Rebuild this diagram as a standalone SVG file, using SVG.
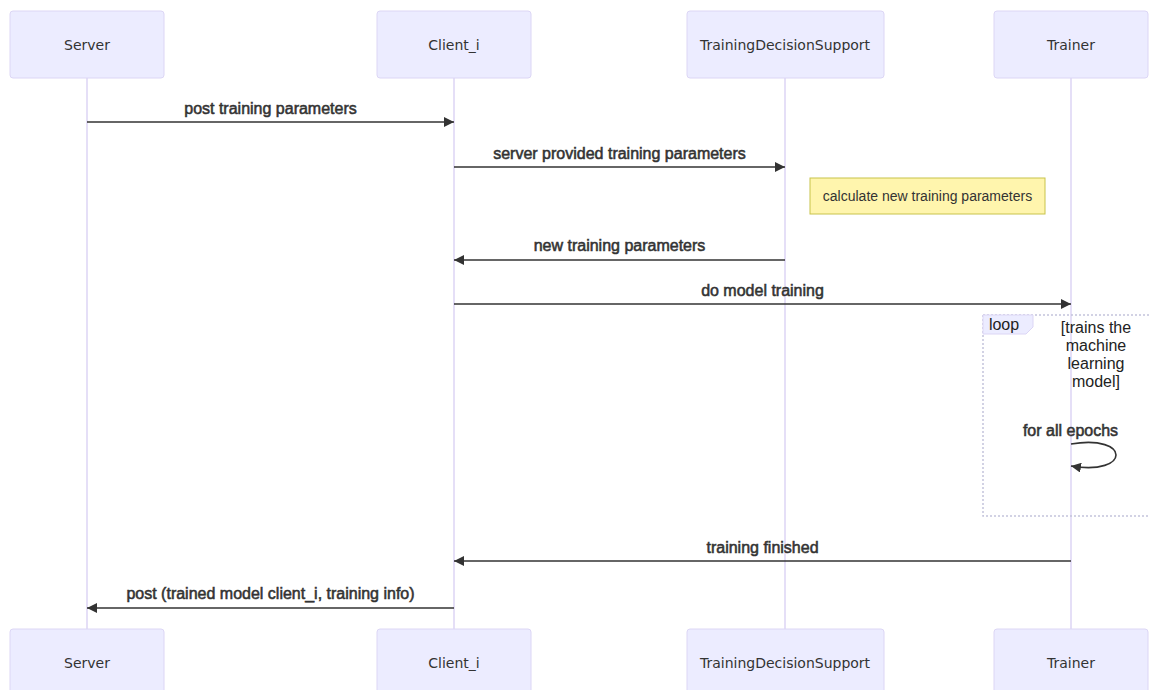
<svg xmlns="http://www.w3.org/2000/svg" width="1150" height="690" viewBox="0 0 1150 690">
  <style>
    .actor { fill: #ececff; stroke: #dcd6f5; stroke-width: 1; }
    .actor-label { font-family: "DejaVu Sans", sans-serif; font-size: 14px; fill: #333; text-anchor: middle; }
    .lifeline { stroke: #dcd4f4; stroke-width: 1.5; }
    .msg { stroke: #333; stroke-width: 1.6; fill: none; }
    .msg-label { font-family: "Liberation Sans", Arial, sans-serif; font-size: 16px; fill: #333; stroke: #333; stroke-width: 0.55; text-anchor: middle; }
    .note { fill: #fff5ad; stroke: #c8c34a; stroke-width: 1; }
    .note-label { font-family: "Liberation Sans", Arial, sans-serif; font-size: 14px; fill: #333; text-anchor: middle; }
    .loop-line { fill: none; stroke: #c4c4dc; stroke-width: 1.5; stroke-dasharray: 2 2; }
    .loop-tab { fill: #ececff; stroke: #dcd6f5; stroke-width: 1; }
    .loop-text { font-family: "Liberation Sans", Arial, sans-serif; font-size: 16px; fill: #222; text-anchor: middle; }
  </style>
  <defs>
    <marker id="arrowhead" viewBox="0 0 10 10" refX="10" refY="5" markerWidth="10" markerHeight="10" markerUnits="userSpaceOnUse" orient="auto">
      <path d="M0,0 L10,5 L0,10 Z" fill="#333"/>
    </marker>
  </defs>

  <rect width="1150" height="690" fill="#ffffff"/>

  <!-- lifelines -->
  <g id="lifelines">
    <line class="lifeline" x1="87" y1="78" x2="87" y2="629"/>
    <line class="lifeline" x1="454" y1="78" x2="454" y2="629"/>
    <line class="lifeline" x1="785" y1="78" x2="785" y2="629"/>
    <line class="lifeline" x1="1071" y1="78" x2="1071" y2="629"/>
  </g>

  <!-- participants -->
  <g id="server">
    <rect class="actor" x="10" y="11" width="154" height="67" rx="3"/>
    <text class="actor-label" x="87" y="50">Server</text>
    <rect class="actor" x="10" y="629" width="154" height="67" rx="3"/>
    <text class="actor-label" x="87" y="668">Server</text>
  </g>
  <g id="client_i">
    <rect class="actor" x="377" y="11" width="154" height="67" rx="3"/>
    <text class="actor-label" x="454" y="50">Client_i</text>
    <rect class="actor" x="377" y="629" width="154" height="67" rx="3"/>
    <text class="actor-label" x="454" y="668">Client_i</text>
  </g>
  <g id="training-decision-support">
    <rect class="actor" x="687" y="11" width="197" height="67" rx="3"/>
    <text class="actor-label" x="785" y="50">TrainingDecisionSupport</text>
    <rect class="actor" x="687" y="629" width="197" height="67" rx="3"/>
    <text class="actor-label" x="785" y="668">TrainingDecisionSupport</text>
  </g>
  <g id="trainer">
    <rect class="actor" x="994" y="11" width="154" height="67" rx="3"/>
    <text class="actor-label" x="1071" y="50">Trainer</text>
    <rect class="actor" x="994" y="629" width="154" height="67" rx="3"/>
    <text class="actor-label" x="1071" y="668">Trainer</text>
  </g>

  <!-- note next to TrainingDecisionSupport -->
  <g id="note-calculate">
    <rect class="note" x="810" y="178" width="235" height="36"/>
    <text class="note-label" x="927.5" y="201">calculate new training parameters</text>
  </g>

  <!-- loop frame -->
  <g id="loop-frame">
    <path class="loop-line" d="M983,315 H1152 M983,315 V516 H1152"/>
    <path class="loop-tab" d="M983,315 H1033 V327 L1026,334 H983 Z"/>
    <text class="loop-text" x="1004" y="330" font-size="15">loop</text>
    <text class="loop-text" x="1096" y="333">[trains the</text>
    <text class="loop-text" x="1096" y="351">machine</text>
    <text class="loop-text" x="1096" y="369">learning</text>
    <text class="loop-text" x="1096" y="387">model]</text>
  </g>

  <!-- messages -->
  <g id="connectors">
    <line class="msg" x1="87" y1="122" x2="454" y2="122" marker-end="url(#arrowhead)"/>
    <text class="msg-label" x="270.5" y="114">post training parameters</text>

    <line class="msg" x1="454" y1="167" x2="785" y2="167" marker-end="url(#arrowhead)"/>
    <text class="msg-label" x="619.5" y="159">server provided training parameters</text>

    <line class="msg" x1="785" y1="260" x2="454" y2="260" marker-end="url(#arrowhead)"/>
    <text class="msg-label" x="619.5" y="251">new training parameters</text>

    <line class="msg" x1="454" y1="304" x2="1071" y2="304" marker-end="url(#arrowhead)"/>
    <text class="msg-label" x="762.5" y="296">do model training</text>

    <path class="msg" d="M1071,444 C1131,434 1131,476 1071,466" marker-end="url(#arrowhead)"/>
    <text class="msg-label" x="1070.5" y="436">for all epochs</text>

    <line class="msg" x1="1071" y1="561" x2="454" y2="561" marker-end="url(#arrowhead)"/>
    <text class="msg-label" x="762.5" y="553">training finished</text>

    <line class="msg" x1="454" y1="608" x2="87" y2="608" marker-end="url(#arrowhead)"/>
    <text class="msg-label" x="270.5" y="599">post (trained model client_i, training info)</text>
  </g>
</svg>
